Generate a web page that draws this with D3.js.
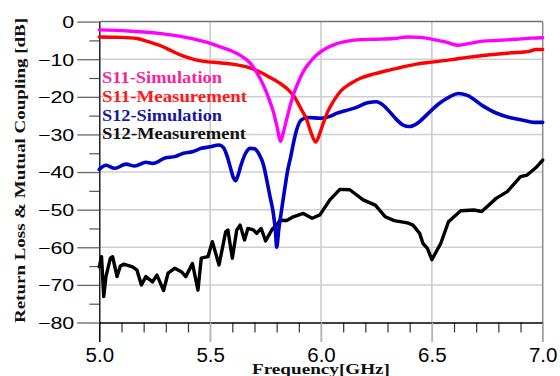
<!DOCTYPE html>
<html>
<head>
<meta charset="utf-8">
<script src="https://cdn.jsdelivr.net/npm/d3@7"></script>
<style>
  body { margin: 0; background: #fff; }
  svg { display: block; }
</style>
</head>
<body>
<svg id="chart" width="560" height="376"></svg>
<script>
// frequency in GHz, level in dB
var s11SimFreq = [5.00, 5.13, 5.28, 5.39, 5.49, 5.55, 5.60, 5.64, 5.68, 5.71, 5.74, 5.765, 5.785, 5.80, 5.818, 5.83, 5.845, 5.86, 5.875, 5.90, 5.92, 5.95, 5.98, 6.02, 6.06, 6.12, 6.18, 6.25, 6.33, 6.39, 6.45, 6.51, 6.56, 6.62, 6.67, 6.73, 6.80, 6.88, 6.95, 7.00];
var s11SimDb = [-2.2, -2.5, -3.2, -4.2, -5.6, -6.8, -7.9, -9.1, -11.0, -13.5, -16.9, -20.5, -24.0, -27.5, -31.8, -29.5, -26.0, -22.5, -19.5, -15.8, -13.3, -10.8, -8.9, -7.2, -6.1, -5.2, -4.8, -4.7, -4.5, -4.1, -4.2, -4.8, -5.4, -6.3, -5.8, -5.2, -5.0, -4.7, -4.4, -4.3];

var s11MeasFreq = [5.00, 5.10, 5.17, 5.22, 5.28, 5.33, 5.38, 5.43, 5.49, 5.55, 5.60, 5.66, 5.71, 5.76, 5.81, 5.85, 5.88, 5.91, 5.935, 5.955, 5.976, 5.99, 6.00, 6.03, 6.06, 6.09, 6.13, 6.18, 6.24, 6.30, 6.36, 6.43, 6.51, 6.59, 6.66, 6.73, 6.80, 6.86, 6.94, 6.97, 7.00];
var s11MeasDb = [-4.1, -4.2, -4.5, -5.3, -6.5, -7.9, -9.2, -10.1, -10.7, -11.0, -11.3, -12.0, -13.0, -14.5, -16.2, -18.0, -20.0, -23.2, -26.0, -29.5, -32.0, -30.5, -28.8, -24.0, -20.8, -18.4, -16.6, -15.0, -13.9, -13.0, -12.2, -11.3, -10.7, -10.1, -9.5, -9.0, -8.6, -8.3, -7.9, -7.4, -7.4];

var s12SimFreq = [5.00, 5.03, 5.07, 5.12, 5.16, 5.21, 5.24, 5.30, 5.34, 5.38, 5.42, 5.46, 5.50, 5.54, 5.56, 5.575, 5.59, 5.605, 5.615, 5.625, 5.64, 5.66, 5.68, 5.70, 5.72, 5.74, 5.755, 5.77, 5.785, 5.795, 5.80, 5.81, 5.82, 5.835, 5.85, 5.865, 5.875, 5.89, 5.91, 5.94, 6.00, 6.04, 6.07, 6.11, 6.15, 6.21, 6.25, 6.28, 6.31, 6.34, 6.37, 6.40, 6.44, 6.48, 6.53, 6.58, 6.62, 6.66, 6.73, 6.79, 6.85, 6.91, 6.96, 7.00];
var s12SimDb = [-39.3, -38.2, -39.0, -37.9, -38.4, -37.4, -37.7, -36.2, -35.9, -35.0, -34.6, -33.7, -33.3, -32.8, -33.5, -35.5, -38.5, -41.5, -42.3, -41.0, -38.0, -35.0, -33.7, -33.8, -35.2, -38.0, -42.0, -46.5, -51.0, -56.0, -60.0, -55.0, -51.0, -45.0, -39.5, -35.5, -32.5, -28.8, -26.2, -25.5, -25.7, -25.2, -24.4, -23.7, -23.0, -21.6, -21.3, -22.2, -24.0, -26.0, -27.5, -27.9, -26.8, -24.6, -21.9, -20.0, -19.1, -19.6, -22.4, -24.3, -25.5, -26.2, -26.8, -26.8];

var s12MeasFreq = [5.00, 5.01, 5.02, 5.03, 5.05, 5.06, 5.08, 5.095, 5.11, 5.15, 5.17, 5.19, 5.21, 5.24, 5.26, 5.29, 5.31, 5.34, 5.37, 5.39, 5.42, 5.445, 5.46, 5.49, 5.51, 5.54, 5.57, 5.58, 5.60, 5.62, 5.635, 5.655, 5.67, 5.695, 5.71, 5.73, 5.75, 5.78, 5.80, 5.815, 5.845, 5.875, 5.92, 5.96, 5.995, 6.04, 6.085, 6.13, 6.19, 6.245, 6.29, 6.33, 6.39, 6.415, 6.445, 6.46, 6.48, 6.50, 6.54, 6.575, 6.63, 6.69, 6.725, 6.79, 6.84, 6.90, 6.93, 6.97, 7.00];
var s12MeasDb = [-65.2, -62.5, -73.1, -67.8, -62.9, -62.5, -67.8, -65.0, -64.5, -65.2, -66.1, -70.0, -67.8, -69.2, -67.4, -71.5, -66.9, -65.6, -66.5, -67.8, -64.3, -71.4, -62.9, -62.5, -58.5, -64.7, -55.9, -55.4, -62.9, -55.4, -54.1, -58.1, -55.0, -55.4, -56.3, -55.0, -58.3, -55.2, -54.1, -52.8, -52.9, -51.9, -51.0, -52.3, -51.4, -47.4, -44.6, -44.7, -47.4, -48.8, -51.9, -52.9, -53.5, -54.1, -56.3, -59.0, -60.3, -63.3, -59.0, -53.2, -50.3, -50.1, -50.5, -47.0, -45.2, -41.2, -40.8, -38.8, -36.8];

var xMajor = [5.0, 5.5, 6.0, 6.5, 7.0];
var yMajor = [0, -10, -20, -30, -40, -50, -60, -70, -80];
var legendNames = ["S11-Simulation", "S11-Measurement", "S12-Simulation", "S12-Measurement"];

var svg = d3.select("#chart");
var x = d3.scaleLinear().domain([5, 7]).range([99.3, 542.7]);
var y = d3.scaleLinear().domain([0, -80]).range([21.6, 322.5]);
var axisBottomY = y(-80);

// minor tick positions every 0.1 GHz and every 5 dB
var xMinor = d3.range(51, 70).map(function (d) { return d / 10; }).filter(function (d) { return Math.round(d * 10) % 5 !== 0; });
var yMinor = d3.range(-75, 0, 10);

// grid
svg.append("g").selectAll("line").data(xMajor.slice(1, 4)).enter().append("line")
  .attr("x1", function (d) { return x(d); }).attr("x2", function (d) { return x(d); })
  .attr("y1", y(0)).attr("y2", axisBottomY + 19.5)
  .attr("stroke", "#c8c8c8").attr("stroke-width", 1.5);
svg.append("g").selectAll("line").data(yMajor.slice(1, 8)).enter().append("line")
  .attr("x1", x(5)).attr("x2", x(7))
  .attr("y1", function (d) { return y(d); }).attr("y2", function (d) { return y(d); })
  .attr("stroke", "#cfcfcf").attr("stroke-width", 1.5);

// top and right border
svg.append("line").attr("x1", x(5)).attr("x2", x(7)).attr("y1", y(0)).attr("y2", y(0))
  .attr("stroke", "#707070").attr("stroke-width", 1.5);
svg.append("line").attr("x1", x(7)).attr("x2", x(7)).attr("y1", y(0)).attr("y2", axisBottomY + 19.5)
  .attr("stroke", "#8a8a8a").attr("stroke-width", 1.5);

// x axis: minor ticks, then major ticks with labels
var xMinorAxis = svg.append("g").attr("transform", "translate(0," + axisBottomY + ")")
  .call(d3.axisBottom(x).tickValues(xMinor).tickSize(10).tickFormat(""));
xMinorAxis.select(".domain").remove();
xMinorAxis.selectAll("line").attr("stroke", "#333").attr("stroke-width", 1.2);

var xAxis = svg.append("g").attr("transform", "translate(0," + axisBottomY + ")")
  .call(d3.axisBottom(x).tickValues(xMajor).tickSize(19.5).tickSizeOuter(0).tickFormat(d3.format(".1f")));
xAxis.select(".domain").attr("stroke", "#000").attr("stroke-width", 1.3);
xAxis.selectAll(".tick line").attr("stroke", function (d) { return d === 5 ? "#000" : "#b5b5b5"; }).attr("stroke-width", 1.5);
xAxis.selectAll(".tick text")
  .attr("y", 39.4).attr("dy", null)
  .attr("fill", "#000")
  .style("font-family", "'Liberation Sans', Arial, sans-serif")
  .style("font-size", "20.5px");

// y axis
var yMinorAxis = svg.append("g").attr("transform", "translate(" + x(5) + ",0)")
  .call(d3.axisLeft(y).tickValues(yMinor).tickSize(10).tickFormat(""));
yMinorAxis.select(".domain").remove();
yMinorAxis.selectAll("line").attr("stroke", "#555").attr("stroke-width", 1.2);

var yAxis = svg.append("g").attr("transform", "translate(" + x(5) + ",0)")
  .call(d3.axisLeft(y).tickValues(yMajor).tickSize(22).tickSizeOuter(0).tickFormat(d3.format("d")));
yAxis.select(".domain").attr("stroke", "#000").attr("stroke-width", 1.3);
yAxis.selectAll(".tick line").attr("stroke", "#666").attr("stroke-width", 1.3);
yAxis.selectAll(".tick text")
  .attr("x", null).attr("dy", null)
  .attr("text-anchor", "end")
  .attr("transform", "translate(-25,5.8) scale(1.3,1)")
  .attr("fill", "#000")
  .style("font-family", "'Liberation Sans', Arial, sans-serif")
  .style("font-size", "16.5px");

// curves
var line = d3.line()
  .x(function (d) { return x(d[0]); })
  .y(function (d) { return y(d[1]); });

function pairs(f, v) { return f.map(function (d, i) { return [d, v[i]]; }); }

var series = [
  { data: pairs(s12MeasFreq, s12MeasDb), color: "#000000", curve: d3.curveLinear, width: 3.4 },
  { data: pairs(s12SimFreq, s12SimDb), color: "#0000c8", curve: d3.curveMonotoneX, width: 3.6 },
  { data: pairs(s11MeasFreq, s11MeasDb), color: "#ff0000", curve: d3.curveMonotoneX, width: 3.4 },
  { data: pairs(s11SimFreq, s11SimDb), color: "#ff00ff", curve: d3.curveMonotoneX, width: 3.4 }
];

svg.append("g").selectAll("path").data(series).enter().append("path")
  .attr("d", function (s) { return line.curve(s.curve)(s.data); })
  .attr("fill", "none")
  .attr("stroke", function (s) { return s.color; })
  .attr("stroke-width", function (s) { return s.width; })
  .attr("stroke-linejoin", "round")
  .attr("stroke-linecap", "round");

// legend
var legendColors = ["#ff1f9a", "#ff1a1a", "#1616a8", "#111111"];
var legendLengths = [120, 145, 120, 144];
svg.append("g").selectAll("text").data(legendNames).enter().append("text")
  .attr("x", 102)
  .attr("y", function (d, i) { return 83.3 + i * 18.6; })
  .attr("textLength", function (d, i) { return legendLengths[i]; })
  .attr("lengthAdjust", "spacingAndGlyphs")
  .attr("fill", function (d, i) { return legendColors[i]; })
  .style("font-family", "'Liberation Serif', 'Times New Roman', serif")
  .style("font-weight", "bold")
  .style("font-size", "16px")
  .text(function (d) { return d; });

// axis titles
svg.append("text")
  .attr("transform", "translate(25,170.5) rotate(-90)")
  .attr("text-anchor", "middle")
  .attr("textLength", 305)
  .attr("lengthAdjust", "spacingAndGlyphs")
  .attr("fill", "#111")
  .style("font-family", "'Liberation Serif', 'Times New Roman', serif")
  .style("font-weight", "bold")
  .style("font-size", "14px")
  .text("Return Loss & Mutual Coupling [dB]");

svg.append("text")
  .attr("x", x(6))
  .attr("y", 374)
  .attr("text-anchor", "middle")
  .attr("textLength", 138)
  .attr("lengthAdjust", "spacingAndGlyphs")
  .attr("fill", "#111")
  .style("font-family", "'Liberation Serif', 'Times New Roman', serif")
  .style("font-weight", "bold")
  .style("font-size", "15px")
  .text("Frequency[GHz]");
</script>
</body>
</html>
